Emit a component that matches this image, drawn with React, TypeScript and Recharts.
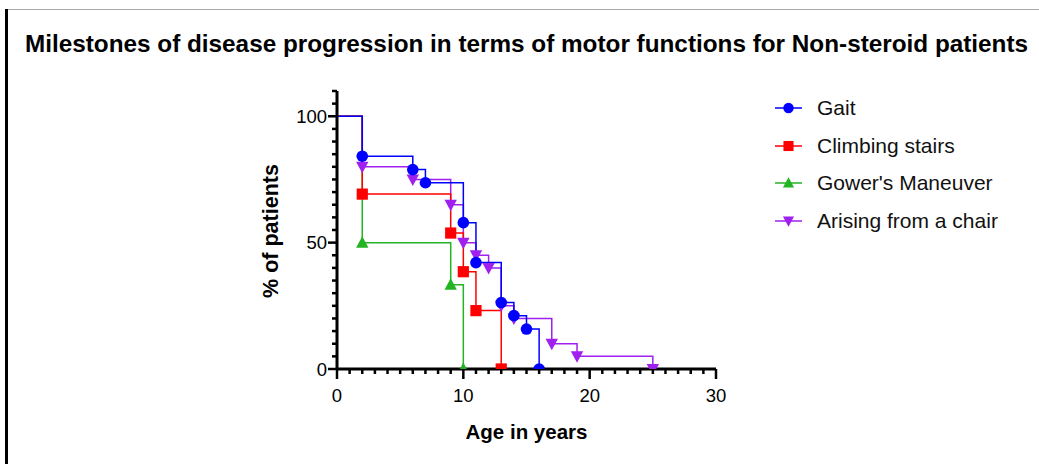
import React from 'react';
import { LineChart, Line, XAxis, YAxis, Legend } from 'recharts';

// ---- data (Kaplan-Meier style step curves) ----
const gaitAge = [0, 2, 6, 7, 10, 11, 13, 14, 15, 16];
const gaitPct = [100, 84.2, 78.9, 73.7, 57.9, 42.1, 26.3, 21.1, 15.8, 0];

const stairsAge = [0, 2, 9, 10, 11, 13];
const stairsPct = [100, 69.2, 53.8, 38.5, 23.1, 0];

const gowerAge = [0, 2, 9, 10];
const gowerPct = [100, 50, 33.3, 0];

const chairAge = [0, 2, 6, 9, 10, 11, 12, 13, 14, 17, 19, 25];
const chairPct = [100, 80, 75, 65, 50, 45, 40, 25, 20, 10, 5, 0];

const seriesNames = ['Gait', 'Climbing stairs', "Gower's Maneuver", 'Arising from a chair'];

const xTicks = [0, 1, 2, 3, 4, 5, 6, 7, 8, 9, 10, 11, 12, 13, 14, 15, 16, 17, 18, 19, 20, 21, 22, 23, 24, 25, 26, 27, 28, 29, 30];
const xTickLabels = [0, 10, 20, 30];
const yTicks = [0, 5, 10, 15, 20, 25, 30, 35, 40, 45, 50, 55, 60, 65, 70, 75, 80, 85, 90, 95, 100, 105, 110];
const yTickLabels = [0, 50, 100];

const TITLE = 'Milestones of disease progression in terms of motor functions for Non-steroid patients';
const X_LABEL = 'Age in years';
const Y_LABEL = '% of patients';

const toRows = (xs: number[], ys: number[]) => xs.map((x, i) => ({ age: x, pct: ys[i] }));
const gaitData = toRows(gaitAge, gaitPct);
const stairsData = toRows(stairsAge, stairsPct);
const gowerData = toRows(gowerAge, gowerPct);
const chairData = toRows(chairAge, chairPct);

const COLORS = {
  gait: '#0000FF',
  stairs: '#FF0000',
  gower: '#22B422',
  chair: '#A020F0',
};

const FONT = '"Liberation Sans", Arial, sans-serif';

type Shape = 'circle' | 'square' | 'triangle' | 'down';

const Marker = ({ cx, cy, shape, color, s = 1 }: any) => {
  if (shape === 'circle') return <circle cx={cx} cy={cy} r={5.8 * s} fill={color} />;
  if (shape === 'square') {
    const h = 5.6 * s;
    return <rect x={cx - h} y={cy - h} width={2 * h} height={2 * h} fill={color} />;
  }
  if (shape === 'triangle') {
    const w = 6.2 * s;
    return <polygon points={`${cx - w},${cy + 5 * s} ${cx + w},${cy + 5 * s} ${cx},${cy - 6.5 * s}`} fill={color} />;
  }
  const w = 6.2 * s;
  return <polygon points={`${cx - w},${cy - 5 * s} ${cx + w},${cy - 5 * s} ${cx},${cy + 6.5 * s}`} fill={color} />;
};

const makeDot = (shape: Shape, color: string) => (props: any) => {
  const { cx, cy, index } = props;
  if (index === 0 || cx == null || cy == null) return <g key={`d-${shape}-${index}`} />;
  return (
    <g key={`d-${shape}-${index}`}>
      <Marker cx={cx} cy={cy} shape={shape} color={color} />
    </g>
  );
};

const XTick = (props: any) => {
  const { x, y, payload } = props;
  const major = xTickLabels.includes(payload.value);
  return (
    <g>
      <line x1={x} x2={x} y1={y} y2={y + (major ? 10 : 5)} stroke="#000" strokeWidth={2.5} />
      {major && (
        <text x={x} y={y + 33} textAnchor="middle" fontFamily={FONT} fontSize={18.5} fill="#000">
          {payload.value}
        </text>
      )}
    </g>
  );
};

const YTick = (props: any) => {
  const { x, y, payload } = props;
  const major = yTickLabels.includes(payload.value);
  return (
    <g>
      <line x1={x} x2={x - (major ? 9 : 5)} y1={y} y2={y} stroke="#000" strokeWidth={2.5} />
      {major && (
        <text x={x - 10} y={y + 6.5} textAnchor="end" fontFamily={FONT} fontSize={18.5} fill="#000">
          {payload.value}
        </text>
      )}
    </g>
  );
};

const legendItems: { name: string; shape: Shape; color: string }[] = [
  { name: seriesNames[0], shape: 'circle', color: COLORS.gait },
  { name: seriesNames[1], shape: 'square', color: COLORS.stairs },
  { name: seriesNames[2], shape: 'triangle', color: COLORS.gower },
  { name: seriesNames[3], shape: 'down', color: COLORS.chair },
];

const renderLegend = () => (
  <div style={{ fontFamily: FONT }}>
    {legendItems.map((it) => (
      <div key={it.name} style={{ display: 'flex', alignItems: 'center', height: 37.7 }}>
        <svg width={47} height={20} style={{ display: 'block' }}>
          <line x1={5} x2={32} y1={10} y2={10} stroke={it.color} strokeWidth={1.5} />
          <Marker cx={18.5} cy={10} shape={it.shape} color={it.color} s={0.9} />
        </svg>
        <span style={{ fontSize: 21, color: '#111', whiteSpace: 'nowrap' }}>{it.name}</span>
      </div>
    ))}
  </div>
);

export default function App() {
  return (
    <div style={{ position: 'absolute', left: 0, top: 0, width: 1039, height: 464, background: '#fff', overflow: 'hidden' }}>
      <div style={{ position: 'absolute', left: 7, top: 9, right: 0, height: 1, background: '#aaa' }} />
      <div style={{ position: 'absolute', left: 5, top: 9, width: 2.5, bottom: 0, background: '#000' }} />
      <div
        style={{
          position: 'absolute',
          left: 25,
          top: 30,
          fontFamily: FONT,
          fontWeight: 'bold',
          fontSize: 24.3,
          whiteSpace: 'nowrap',
          color: '#000',
        }}
      >
        {TITLE}
      </div>
      <div style={{ position: 'absolute', left: 0, top: 0 }}>
        <LineChart width={1039} height={464} margin={{ top: 91, right: 63, bottom: 65, left: 237 }}>
          <XAxis
            type="number"
            dataKey="age"
            domain={[0, 30]}
            ticks={xTicks}
            interval={0}
            tickSize={0}
            tickMargin={0}
            tick={<XTick />}
            tickLine={false}
            axisLine={{ stroke: '#000', strokeWidth: 3 }}
            height={30}
            allowDataOverflow
            label={{
              content: (p: any) => {
                const vb = p.viewBox;
                return (
                  <text x={vb.x + vb.width / 2} y={vb.y + 70} textAnchor="middle" fontFamily={FONT} fontWeight="bold" fontSize={20.5} fill="#000">
                    {X_LABEL}
                  </text>
                );
              },
            }}
          />
          <YAxis
            type="number"
            domain={[0, 110]}
            ticks={yTicks}
            interval={0}
            tickSize={0}
            tickMargin={0}
            tick={<YTick />}
            tickLine={false}
            axisLine={{ stroke: '#000', strokeWidth: 3 }}
            width={100}
            allowDataOverflow
            label={{
              content: (p: any) => {
                const vb = p.viewBox;
                const cx = vb.x + 41;
                const cy = vb.y + vb.height / 2 + 1;
                return (
                  <text x={cx} y={cy} transform={`rotate(-90, ${cx}, ${cy})`} textAnchor="middle" fontFamily={FONT} fontWeight="bold" fontSize={21.5} fill="#000">
                    {Y_LABEL}
                  </text>
                );
              },
            }}
          />
          <Legend
            layout="vertical"
            verticalAlign="top"
            align="right"
            content={renderLegend}
            wrapperStyle={{ left: 770, top: 89, width: 260 }}
          />
          <Line
            data={chairData}
            dataKey="pct"
            name={seriesNames[3]}
            type="stepAfter"
            stroke={COLORS.chair}
            strokeWidth={1.5}
            dot={makeDot('down', COLORS.chair)}
            activeDot={false}
            isAnimationActive={false}
          />
          <Line
            data={gowerData}
            dataKey="pct"
            name={seriesNames[2]}
            type="stepAfter"
            stroke={COLORS.gower}
            strokeWidth={1.5}
            dot={makeDot('triangle', COLORS.gower)}
            activeDot={false}
            isAnimationActive={false}
          />
          <Line
            data={stairsData}
            dataKey="pct"
            name={seriesNames[1]}
            type="stepAfter"
            stroke={COLORS.stairs}
            strokeWidth={1.5}
            dot={makeDot('square', COLORS.stairs)}
            activeDot={false}
            isAnimationActive={false}
          />
          <Line
            data={gaitData}
            dataKey="pct"
            name={seriesNames[0]}
            type="stepAfter"
            stroke={COLORS.gait}
            strokeWidth={1.5}
            dot={makeDot('circle', COLORS.gait)}
            activeDot={false}
            isAnimationActive={false}
          />
        </LineChart>
      </div>
    </div>
  );
}
